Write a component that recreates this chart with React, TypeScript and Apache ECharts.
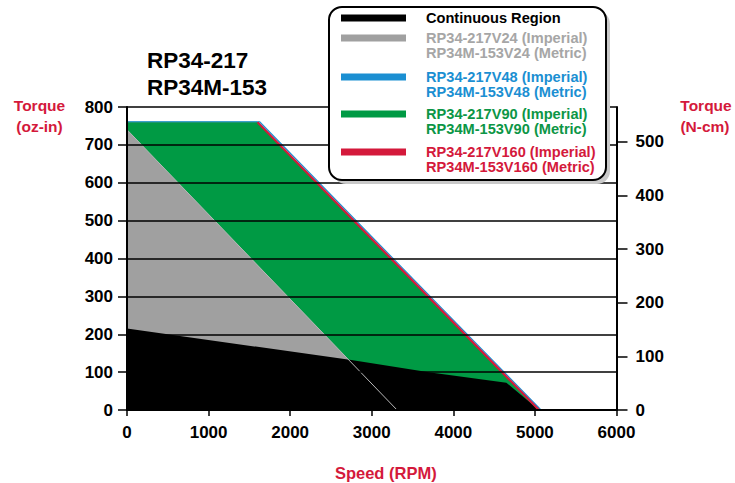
import React, { useEffect, useRef } from "react";
import * as echarts from "echarts";

// ---- data ----
const speedTicks = [0, 1000, 2000, 3000, 4000, 5000, 6000];
const ozInTicks = [0, 100, 200, 300, 400, 500, 600, 700, 800];
const nCmTicks = [0, 100, 200, 300, 400, 500];
const OZIN_TO_NCM = 0.706155;

const contSpeed = [0, 2750, 3700, 4650, 5050];
const contTorque = [215, 132, 100, 72, 0];

const v24Speed = [0, 3310];
const v24Torque = [740, 0];

const v48Speed = [0, 1625, 5075];
const v48Torque = [761, 761, 0];

const v90Speed = [0, 1600, 5040];
const v90Torque = [760, 760, 0];

const v160Speed = [1600, 5050];
const v160Torque = [760, 0];

const titleLines = ["RP34-217", "RP34M-153"];
const legendNames = [
  ["Continuous Region"],
  ["RP34-217V24 (Imperial)", "RP34M-153V24 (Metric)"],
  ["RP34-217V48 (Imperial)", "RP34M-153V48 (Metric)"],
  ["RP34-217V90 (Imperial)", "RP34M-153V90 (Metric)"],
  ["RP34-217V160 (Imperial)", "RP34M-153V160 (Metric)"],
];

const BLACK = "#000000";
const GRAY_FILL = "#a0a0a0";
const GRAY_TEXT = "#a6a6a6";
const BLUE = "#1b8fd2";
const GREEN_FILL = "#009a44";
const GREEN_TEXT = "#0c9646";
const RED = "#d4193b";
const legendSwatch = [BLACK, GRAY_FILL, BLUE, GREEN_FILL, RED];
const legendText = [BLACK, GRAY_TEXT, BLUE, GREEN_TEXT, RED];

const FONT = '"Liberation Sans", Arial, Helvetica, sans-serif';

const pairs = (xs: number[], ys: number[]) => xs.map((x, i) => [x, ys[i]]);

export default function App() {
  const ref = useRef<HTMLDivElement>(null);
  useEffect(() => {
    if (!ref.current) return;
    const chart = echarts.init(ref.current, null, { renderer: "svg" });

    const legendEls: any[] = [
      {
        type: "rect",
        shape: { x: 333, y: 11, width: 277, height: 173, r: 13 },
        style: { fill: "#c9c9c9" },
        z: 100,
      },
      {
        type: "rect",
        shape: { x: 329, y: 7, width: 277, height: 173, r: 13 },
        style: { fill: "#ffffff", stroke: "#000000", lineWidth: 2 },
        z: 101,
      },
    ];
    const rowY = [18, 38, 77, 114, 152];
    const lineGap = 15;
    legendNames.forEach((lines, i) => {
      legendEls.push({
        type: "rect",
        shape: { x: 341, y: rowY[i] - 3.5, width: 65, height: 7 },
        style: { fill: legendSwatch[i] },
        z: 102,
      });
      lines.forEach((t, j) => {
        legendEls.push({
          type: "text",
          x: 426,
          y: rowY[i] + j * lineGap,
          style: {
            text: t,
            fill: legendText[i],
            font: `bold 14.6px ${FONT}`,
            textAlign: "left",
            textVerticalAlign: "middle",
          },
          z: 102,
        });
      });
    });

    const titleEls = titleLines.map((t, i) => ({
      type: "text",
      x: 147,
      y: 60 + i * 27.5,
      style: {
        text: t,
        fill: "#000",
        font: `bold 22.5px ${FONT}`,
        textAlign: "left",
        textVerticalAlign: "middle",
      },
    }));

    const axisTitle = (text: string, x: number, y: number) => ({
      type: "text",
      x,
      y,
      style: {
        text,
        fill: RED,
        font: `bold 15.5px ${FONT}`,
        textAlign: "center",
        textVerticalAlign: "middle",
      },
    });

    const labelStyle = {
      color: "#000",
      fontSize: 17,
      fontWeight: "bold" as const,
      fontFamily: FONT,
      formatter: (v: number) => String(v),
    };

    const lineOnly = (name: string, data: number[][], color: string, width: number, z: number) => ({
      name,
      type: "line",
      data,
      showSymbol: false,
      symbol: "none",
      lineStyle: { color, width },
      z,
      silent: true,
    });
    const areaOnly = (name: string, data: number[][], color: string, z: number) => ({
      name,
      type: "line",
      data,
      showSymbol: false,
      symbol: "none",
      lineStyle: { width: 0, color },
      areaStyle: { color, opacity: 1 },
      z,
      silent: true,
    });

    chart.setOption({
      animation: false,
      grid: {
        left: 127,
        right: 118.5,
        top: 107,
        bottom: 73,
        containLabel: false,
        outerBoundsMode: "none",
      },
      xAxis: {
        type: "value",
        min: speedTicks[0],
        max: speedTicks[speedTicks.length - 1],
        interval: 1000,
        name: "Speed (RPM)",
        nameLocation: "middle",
        nameGap: 54,
        nameTextStyle: {
          color: RED,
          fontSize: 16.5,
          fontWeight: "bold",
          fontFamily: FONT,
          padding: [0, 0, 0, 28],
        },
        axisLine: { onZero: false, lineStyle: { color: "#000", width: 2 } },
        axisTick: { show: true, length: 6, lineStyle: { color: "#000", width: 1.5 } },
        axisLabel: { ...labelStyle, margin: 14 },
        splitLine: { show: false },
        z: 10,
      },
      yAxis: [
        {
          type: "value",
          position: "left",
          min: ozInTicks[0],
          max: ozInTicks[ozInTicks.length - 1],
          interval: 100,
          axisLine: { show: true, onZero: false, lineStyle: { color: "#000", width: 2 } },
          axisTick: { show: true, length: 9, lineStyle: { color: "#000", width: 1.5 } },
          axisLabel: { ...labelStyle, margin: 14 },
          splitLine: { show: true, lineStyle: { color: "#000", width: 1.5 } },
          z: 10,
        },
        {
          type: "value",
          position: "right",
          min: 0,
          max: ozInTicks[ozInTicks.length - 1] * OZIN_TO_NCM,
          interval: 100,
          axisLine: { show: true, onZero: false, lineStyle: { color: "#000", width: 2 } },
          axisTick: {
            show: true,
            length: 11,
            customValues: nCmTicks,
            lineStyle: { color: "#000", width: 1.5 },
          },
          axisLabel: { ...labelStyle, margin: 19, customValues: nCmTicks },
          splitLine: { show: false },
          z: 10,
        },
      ],
      series: [
        areaOnly("RP34-217V90 fill", pairs(v90Speed, v90Torque), GREEN_FILL, 1),
        areaOnly("RP34-217V24 fill", pairs(v24Speed, v24Torque), GRAY_FILL, 2),
        areaOnly("Continuous Region", pairs(contSpeed, contTorque), BLACK, 3),
        lineOnly("RP34-217V24", pairs(v24Speed, v24Torque), "#b8b8b8", 1, 4),
        lineOnly("RP34-217V90", pairs(v90Speed, v90Torque), "#0a8a3c", 1, 4),
        lineOnly("RP34-217V48", pairs(v48Speed, v48Torque), BLUE, 1.2, 5),
        lineOnly("RP34-217V160", pairs(v160Speed, v160Torque), RED, 2.2, 6),
      ],
      graphic: [
        ...titleEls,
        axisTitle("Torque", 39.5, 105.5),
        axisTitle("(oz-in)", 39.5, 126),
        axisTitle("Torque", 706, 105.5),
        axisTitle("(N-cm)", 705, 126),
        ...legendEls,
      ],
    });
    return () => chart.dispose();
  }, []);
  return (
    <div
      ref={ref}
      style={{ position: "fixed", left: 0, top: 0, width: 735, height: 483, background: "#fff" }}
    />
  );
}
